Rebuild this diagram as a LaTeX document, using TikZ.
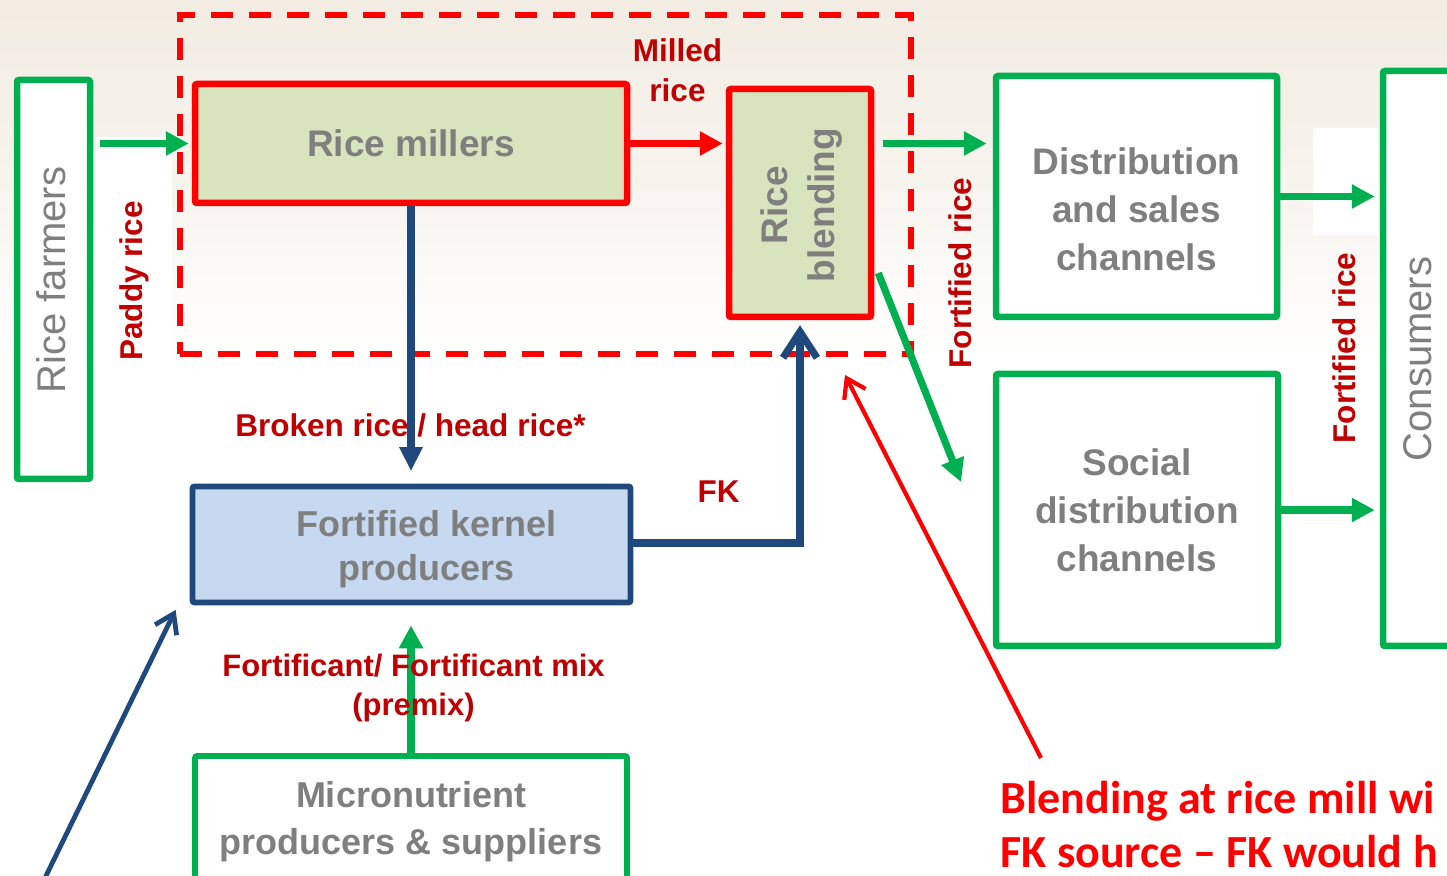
\documentclass[tikz,border=0pt]{standalone}
\usepackage{fontspec}
\setmainfont{Liberation Sans}
\newfontfamily\notefont{Carlito}
\usetikzlibrary{arrows.meta}

\definecolor{flowgreen}{HTML}{00B050}
\definecolor{flowred}{HTML}{FF0000}
\definecolor{labred}{HTML}{C00000}
\definecolor{flowblue}{HTML}{1F497D}
\definecolor{txtgray}{HTML}{7F7F7F}
\definecolor{millfill}{HTML}{D7E4BD}
\definecolor{fkfill}{HTML}{C6D9F1}
\definecolor{paper}{HTML}{F2ECE2}

\begin{document}
\begin{tikzpicture}[x=0.5pt,y=-0.5pt,
  box/.style={draw, line width=3.25pt, rounded corners=1pt, inner sep=0pt, fill=white},
  greenbox/.style={box, draw=flowgreen},
  redbox/.style={box, draw=flowred, fill=millfill},
  bluebox/.style={box, draw=flowblue, fill=fkfill, line width=2.9pt},
  millzone/.style={draw=flowred, line width=3pt, dash pattern=on 11pt off 8pt, inner sep=0pt},
  boldgray/.style={text=txtgray, inner sep=0pt, align=center,
    font=\bfseries\fontsize{18.5pt}{24pt}\selectfont},
  plaingray/.style={text=txtgray, inner sep=0pt,
    font=\fontsize{20pt}{24pt}\selectfont},
  flowlabel/.style={text=labred, inner sep=0pt, align=center,
    font=\bfseries\fontsize{15.75pt}{20pt}\selectfont},
  notetext/.style={text=flowred, inner sep=0pt, anchor=base west,
    font=\notefont\bfseries\fontsize{23pt}{28pt}\selectfont},
  garrow/.style={draw=flowgreen, line width=3.6pt, -{Triangle[length=11.5pt,width=11.5pt]}},
  rarrow/.style={draw=flowred, line width=3.6pt, -{Triangle[length=11.5pt,width=11.5pt]}},
  barrow/.style={draw=flowblue, line width=3.6pt, -{Triangle[length=12pt,width=11pt]}},
  bbarb/.style={draw=flowblue, line width=3.6pt, -{Straight Barb[length=13pt,width=17pt]}},
  thinbarb/.style={line width=2.4pt, -{Straight Barb[length=9pt,width=12pt]}}
]
\useasboundingbox (0,0) rectangle (1447,876);
\clip (0,0) rectangle (1447,876);

% paper background fading out towards the lower half
\fill[white] (0,0) rectangle (1447,876);
\shade[top color=paper, bottom color=white, middle color=paper!60] (0,0) rectangle (1447,360);
\fill[white] (96,137) rectangle (172,360);
\fill[white] (1313,128) rectangle (1378,235);

% the rice mill zone
\node[millzone, minimum width=365.5pt, minimum height=169.5pt] (mill) at (545,185) {};

% boxes
\node[greenbox, minimum width=36.5pt, minimum height=199.5pt] (farmers) at (53.5,279.5) {};
\node[redbox, minimum width=216pt, minimum height=59.5pt] (millers) at (411,143.5) {};
\node[redbox, minimum width=71pt, minimum height=114pt] (blending) at (800,203) {};
\node[greenbox, minimum width=140.5pt, minimum height=120.5pt] (dist) at (1136.5,196.5) {};
\node[greenbox, minimum width=141pt, minimum height=136pt] (social) at (1137,510) {};
\node[greenbox, minimum width=43.5pt, minimum height=287.5pt] (consumers) at (1426.5,358.5) {};
\node[bluebox, minimum width=219pt, minimum height=58pt] (fk) at (411.5,544.5) {};
\node[greenbox, line width=2.9pt, minimum width=216pt, minimum height=72pt] (micro) at (411,828) {};

% box texts
\node[plaingray, rotate=90] (farmerstext) at (51.5,280) {Rice farmers};
\node[boldgray] (millerstext) at (millers.center) {Rice millers};
\node[boldgray, rotate=90, font=\bfseries\fontsize{18.5pt}{23.5pt}\selectfont] (blendingtext) at (802,205) {Rice\\blending};
\node[boldgray] (disttext) at ([yshift=-6.5pt]dist.center) {Distribution\\and sales\\channels};
\node[boldgray] (socialtext) at (social.center) {Social\\distribution\\channels};
\node[plaingray, rotate=90] (consumerstext) at (1418,359) {Consumers};
\node[boldgray, font=\bfseries\fontsize{18pt}{22pt}\selectfont] (fktext) at ([xshift=7.5pt,yshift=-2.5pt]fk.center) {Fortified kernel\\producers};
\node[boldgray, font=\bfseries\fontsize{18pt}{23.5pt}\selectfont] (microtext) at (411,822) {Micronutrient\\producers \& suppliers};

% connectors
\draw[garrow, shorten <=3.5pt, shorten >=1.5pt] (farmers.east |- millers.west) -- (millers.west);
\draw[rarrow, shorten >=1.5pt] (millers.east) -- (millers.east -| blending.west);
\draw[garrow, shorten <=4.5pt, shorten >=3pt] (blending.east |- millers.east) -- (dist.west |- millers.east);
\draw[garrow, shorten >=2.5pt] (dist.east) -- (dist.east -| consumers.west);
\draw[garrow, shorten >=2.5pt] (social.east) -- (social.east -| consumers.west);
\coordinate (socialfeed) at (961,482);
\draw[garrow] ([xshift=2pt,yshift=-35pt]blending.east) -- (socialfeed);
\draw[barrow, shorten >=6.25pt] (millers.south) -- (millers.south |- fk.north);
\draw[bbarb, shorten >=2.5pt] (fk.east |- 0,543) -| (blending.south);
\draw[garrow, shorten >=10pt] (micro.north) -- (micro.north |- fk.south);
\coordinate (fkfeed) at (44,880);
\draw[thinbarb, draw=flowblue] (fkfeed) -- ([xshift=-7pt,yshift=-2.25pt]fk.south west);
\coordinate (notetail) at (1041,758);
\draw[thinbarb, draw=flowred, line width=2.1pt] (notetail) -- ([xshift=-34.25pt,yshift=-8.75pt]mill.south east);

% flow labels
\node[flowlabel] (milledlab) at (677.5,70) {Milled\\rice};
\node[flowlabel, rotate=90] (paddylab) at (134,281) {Paddy rice};
\node[flowlabel, rotate=90] (fortlab1) at (960,273) {Fortified rice};
\node[flowlabel, rotate=90] (fortlab2) at (1344,348) {Fortified rice};
\node[flowlabel, anchor=base] (brokenlab) at (410.5,437) {Broken rice / head rice*};
\node[flowlabel, anchor=base] (fklab) at (718.5,503) {FK};
\node[flowlabel, font=\bfseries\fontsize{15.5pt}{19.5pt}\selectfont] (premixlab) at (413.5,688) {Fortificant/ Fortificant mix\\(premix)};

% note on blending at the mill
\node[notetext] (note1) at (1000,813) {Blending at rice mill wi};
\node[notetext] (note2) at (1000,868) {FK source – FK would h};
\end{tikzpicture}
\end{document}
